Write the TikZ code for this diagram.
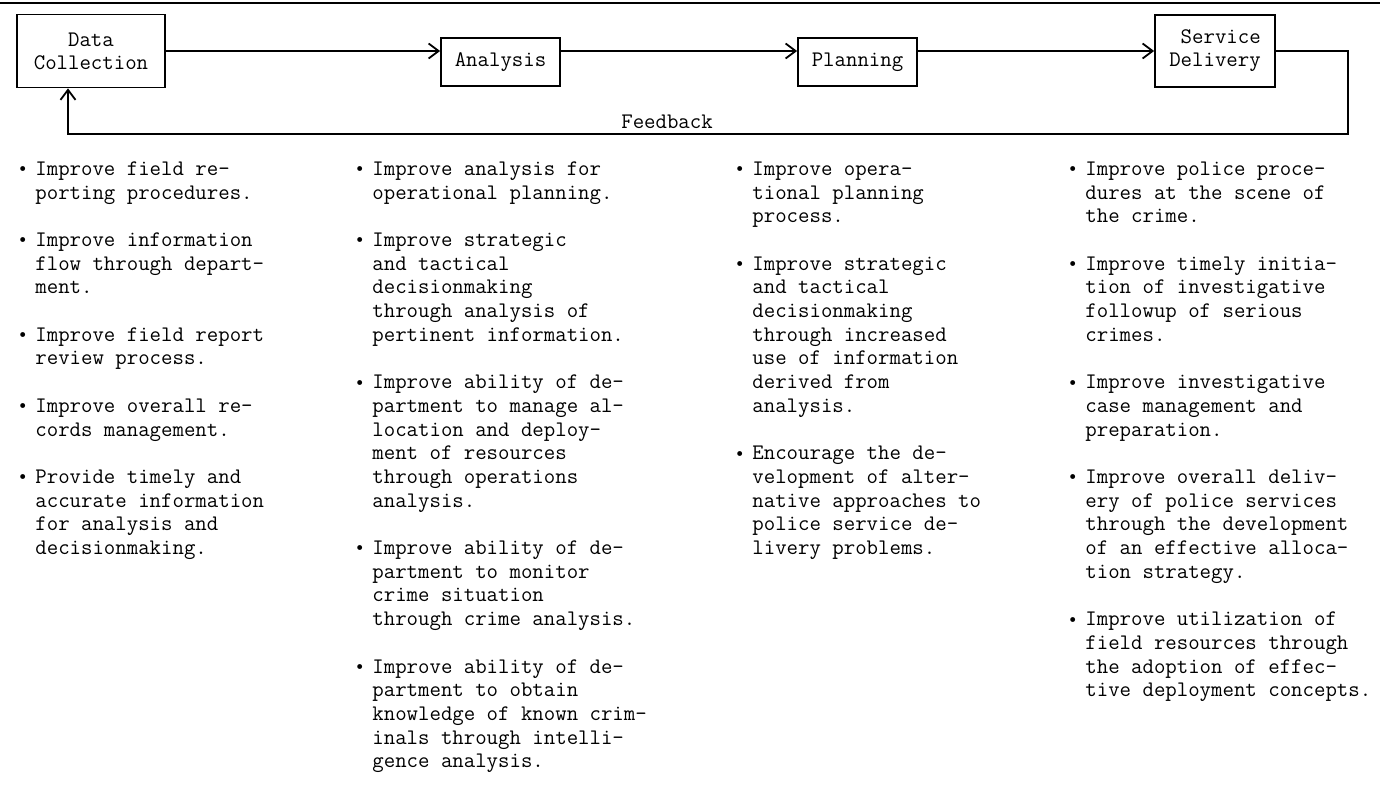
\documentclass[tikz,border=0pt]{standalone}
\usepackage{fontspec}
\usetikzlibrary{arrows.meta}
\newcommand{\aimdot}{\strut\llap{\raisebox{1.8pt}{\tiny$\bullet$}\hspace{4.5pt}}}
\tikzset{
        step_box/.style={draw=black, line width=0.9pt, inner sep=0pt, align=center,
                         font=\ttfamily\fontsize{11.1}{11.5}\selectfont},
        flow_line/.style={line width=0.9pt, draw=black},
        flow_arrow/.style={flow_line, -{Straight Barb[length=5pt, width=7.5pt, line width=0.9pt]}},
        aim_text/.style={anchor=north west, align=left, inner sep=0pt,
                         font=\ttfamily\fontsize{11.1}{11.85}\selectfont}
    }

\begin{document}
\begin{tikzpicture}[x=0.5pt, y=-0.5pt]
    \useasboundingbox (0,0) rectangle (1380,790);
    \draw[line width=1.1pt] (0,3) -- (1380,3);
    % the four stages
    \node[step_box, minimum width=74pt, minimum height=36.5pt] (data_box) at (91, 51) {Data\\Collection};
    \node[step_box, minimum width=59.5pt, minimum height=24pt] (anal_box) at (500.5, 62) {Analysis};
    \node[step_box, minimum width=59.5pt, minimum height=24pt] (plan_box) at (857.5, 62) {Planning};
    \node[step_box, align=right, minimum width=60pt, minimum height=36pt] (serv_box) at (1215, 51) {Service\\Delivery};
    \draw[flow_arrow] (data_box) -- (data_box -| anal_box.west);
    \draw[flow_arrow] (data_box -| anal_box.east) -- (data_box -| plan_box.west);
    \draw[flow_arrow] (data_box -| plan_box.east) -- (data_box -| serv_box.west);
    % feedback loop
    \coordinate (fb_right) at (1348, 134);
    \coordinate (fb_left) at (68, 134);
    \draw[flow_arrow] (serv_box.east) -| (fb_right)
        -- node[pos=0.532, anchor=base, yshift=2.75pt, font=\ttfamily\fontsize{11.1}{11.5}\selectfont] {Feedback} (fb_left)
        -- (fb_left |- data_box.south);
    % data collection
    \begin{scope}[xshift=17.5pt]
        \node[aim_text] (col1_a) at (0, {158.4+23.7*0}) {\aimdot Improve field re-\\porting procedures.};
        \node[aim_text] (col1_b) at (0, {158.4+23.7*3}) {\aimdot Improve information\\flow through depart-\\ment.};
        \node[aim_text] (col1_c) at (0, {158.4+23.7*7}) {\aimdot Improve field report\\review process.};
        \node[aim_text] (col1_d) at (0, {158.4+23.7*10}) {\aimdot Improve overall re-\\cords management.};
        \node[aim_text] (col1_e) at (0, {158.4+23.7*13}) {\aimdot Provide timely and\\accurate information\\for analysis and\\decisionmaking.};
    \end{scope}
    % analysis
    \begin{scope}[xshift=186pt]
        \node[aim_text] (col2_a) at (0, {158.4+23.7*0}) {\aimdot Improve analysis for\\operational planning.};
        \node[aim_text] (col2_b) at (0, {158.4+23.7*3}) {\aimdot Improve strategic\\and tactical\\decisionmaking\\through analysis of\\pertinent information.};
        \node[aim_text] (col2_c) at (0, {158.4+23.7*9}) {\aimdot Improve ability of de-\\partment to manage al-\\location and deploy-\\ment of resources\\through operations\\analysis.};
        \node[aim_text] (col2_d) at (0, {158.4+23.7*16}) {\aimdot Improve ability of de-\\partment to monitor\\crime situation\\through crime analysis.};
        \node[aim_text] (col2_e) at (0, {158.4+23.7*21}) {\aimdot Improve ability of de-\\partment to obtain\\knowledge of known crim-\\inals through intelli-\\gence analysis.};
    \end{scope}
    % planning
    \begin{scope}[xshift=376pt]
        \node[aim_text] (col3_a) at (0, {158.4+23.7*0}) {\aimdot Improve opera-\\tional planning\\process.};
        \node[aim_text] (col3_b) at (0, {158.4+23.7*4}) {\aimdot Improve strategic\\and tactical\\decisionmaking\\through increased\\use of information\\derived from\\analysis.};
        \node[aim_text] (col3_c) at (0, {158.4+23.7*12}) {\aimdot Encourage the de-\\velopment of alter-\\native approaches to\\police service de-\\livery problems.};
    \end{scope}
    % service delivery
    \begin{scope}[xshift=542.5pt]
        \node[aim_text] (col4_a) at (0, {158.4+23.7*0}) {\aimdot Improve police proce-\\dures at the scene of\\the crime.};
        \node[aim_text] (col4_b) at (0, {158.4+23.7*4}) {\aimdot Improve timely initia-\\tion of investigative\\followup of serious\\crimes.};
        \node[aim_text] (col4_c) at (0, {158.4+23.7*9}) {\aimdot Improve investigative\\case management and\\preparation.};
        \node[aim_text] (col4_d) at (0, {158.4+23.7*13}) {\aimdot Improve overall deliv-\\ery of police services\\through the development\\of an effective alloca-\\tion strategy.};
        \node[aim_text] (col4_e) at (0, {158.4+23.7*19}) {\aimdot Improve utilization of\\field resources through\\the adoption of effec-\\tive deployment concepts.};
    \end{scope}
\end{tikzpicture}
\end{document}
